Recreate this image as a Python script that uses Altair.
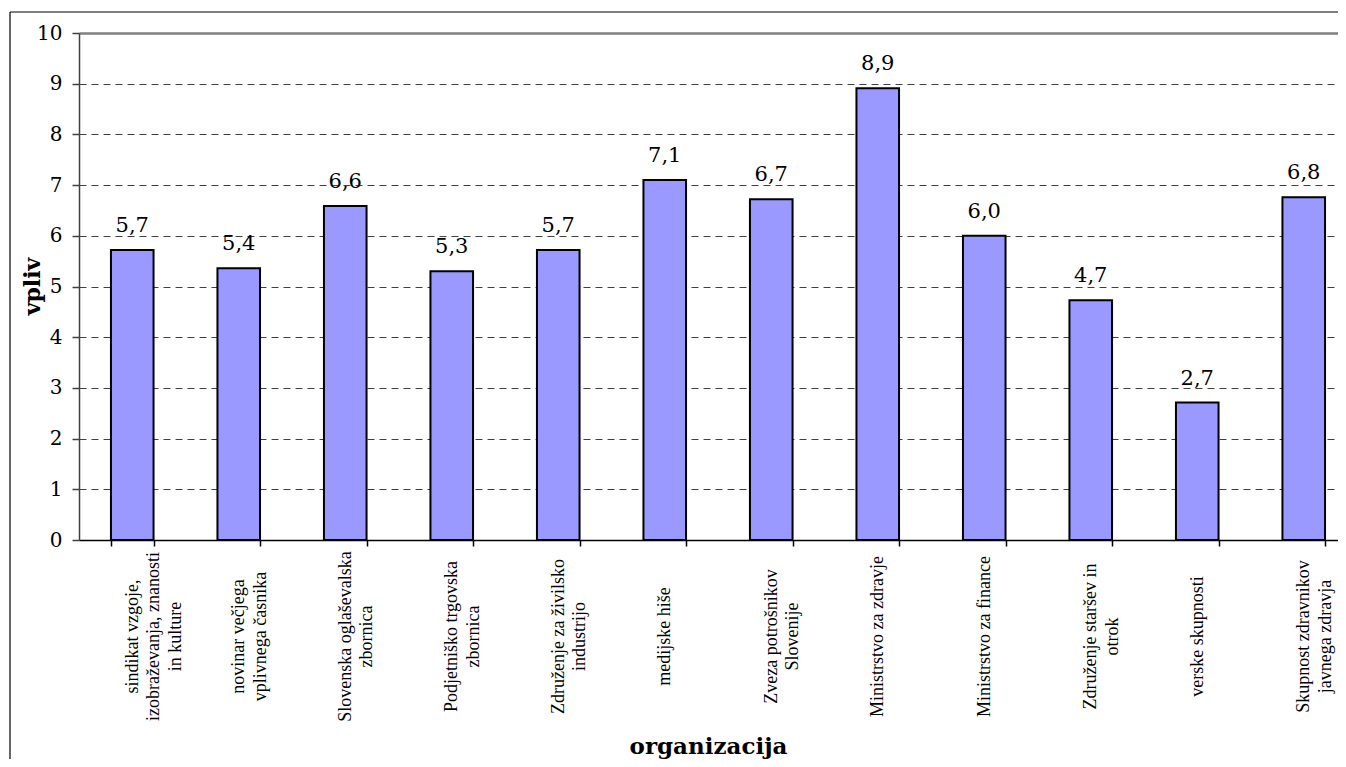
import altair as alt
import pandas as pd

categories = [
    "sindikat vzgoje,\nizobraževanja, znanosti\nin kulture",
    "novinar večjega\nvplivnega časnika",
    "Slovenska oglaševalska\nzbornica",
    "Podjetniško trgovska\nzbornica",
    "Združenje za živilsko\nindustrijo",
    "medijske hiše",
    "Zveza potrošnikov\nSlovenije",
    "Ministrstvo za zdravje",
    "Ministrstvo za finance",
    "Združenje staršev in\notrok",
    "verske skupnosti",
    "Skupnost zdravnikov\njavnega zdravja",
]
values = [5.72, 5.36, 6.59, 5.30, 5.72, 7.10, 6.72, 8.91, 6.00, 4.73, 2.71, 6.76]
y_ticks = [0, 1, 2, 3, 4, 5, 6, 7, 8, 9, 10]

df = pd.DataFrame({"org": categories, "v": values})

W = 1259       # visible plot width (runs to the page edge)
BAND_RANGE = 1278  # full category range (last part runs off-screen)
H = 507
SVG_H = 751

x_enc = alt.X(
    "org:N",
    sort=categories,
    scale=alt.Scale(range=[0, BAND_RANGE], paddingInner=0.6, paddingOuter=0.3),
    axis=alt.Axis(
        title="organizacija",
        titleFont="DejaVu Serif",
        titleFontSize=23,
        titleFontWeight="bold",
        titleColor="black",
        titleX=629,
        titleY=213,
        titleBaseline="alphabetic",
        titleAlign="center",
        labelExpr="split(datum.label, '\\n')",
        labelAngle=-90,
        labelAlign="center",
        labelBaseline="middle",
        labelFont="Liberation Serif",
        labelFontSize=18,
        labelLineHeight=21.5,
        labelColor="black",
        labelPadding=90,
        labelOverlap=False,
        labelBound=False,
        labelFlush=False,
        tickBand="extent",
        tickSize=6,
        tickColor="black",
        tickWidth=1.5,
        domainColor="black",
        domainWidth=1.5,
        grid=False,
    ),
)

y_enc = alt.Y(
    "v:Q",
    scale=alt.Scale(domain=[0, 10], nice=False),
    axis=alt.Axis(
        title="vpliv",
        titleFont="DejaVu Serif",
        titleFontSize=22,
        titleFontWeight="bold",
        titleColor="black",
        titleX=-40,
        titleY=253,
        titleAngle=270,
        titleBaseline="alphabetic",
        titleAlign="center",
        values=y_ticks,
        labelFont="DejaVu Serif",
        labelFontSize=20,
        labelColor="black",
        labelPadding=10,
        tickSize=7,
        tickColor="#404040",
        tickWidth=1.5,
        domainColor="#404040",
        domainWidth=1.5,
        grid=True,
        gridColor={"condition": {"test": "datum.value === 10", "value": "#808080"}, "value": "#404040"},
        gridDash={"condition": {"test": "datum.value === 10", "value": [1, 0]}, "value": [7, 5]},
        gridWidth={"condition": {"test": "datum.value === 10", "value": 2.5}, "value": 1},
    ),
)

one = pd.DataFrame({"k": [0]})
border_top = alt.Chart(one).mark_rule(color="black", strokeWidth=1.2).encode(
    x=alt.value(-69), x2=alt.value(1400), y=alt.value(-21)
)
border_left = alt.Chart(one).mark_rule(color="black", strokeWidth=1.2).encode(
    x=alt.value(-69), y=alt.value(-21), y2=alt.value(800)
)

bars = alt.Chart(df).mark_bar(
    color="#9999FF", stroke="black", strokeWidth=2
).encode(x=x_enc, y=y_enc)

texts = alt.Chart(df).transform_calculate(
    lab="replace(format(datum.v, '.1f'), '.', ',')"
).mark_text(
    font="DejaVu Serif", fontSize=21, color="black", baseline="alphabetic", dy=-18
).encode(
    x=alt.X("org:N", sort=categories),
    y=alt.Y("v:Q"),
    text="lab:N",
)

chart = alt.layer(border_top, border_left, bars, texts).properties(
    width=W, height=H,
    autosize=alt.AutoSizeParams(type="none"),
    padding={"left": 71, "top": 25, "right": 0, "bottom": SVG_H - 25 - H},
).configure_view(
    stroke="transparent", strokeWidth=0, strokeOpacity=0
).configure(background="white")

chart.save("out.html", embed_options={"renderer": "svg", "actions": False})
